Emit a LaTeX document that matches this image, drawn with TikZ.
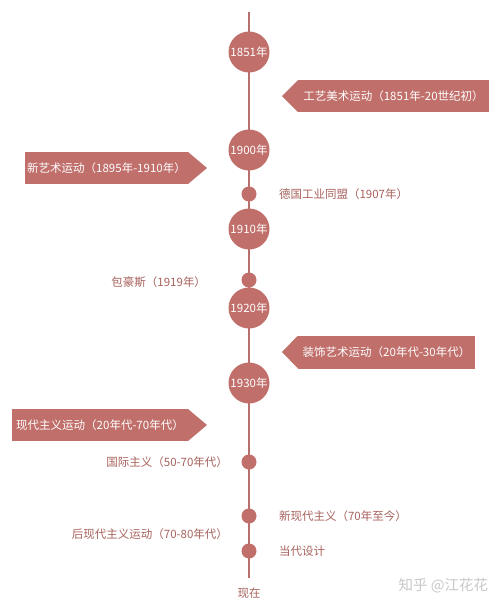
\documentclass[tikz,border=0pt]{standalone}
\usepackage{fontspec}
\setmainfont{Noto Sans CJK SC}
\begin{document}
\begin{tikzpicture}[x=1pt,y=-1pt,
  every node/.style={inner sep=0pt,outer sep=0pt},
  bigc/.style={circle,fill=rose,minimum size=41pt,text=white,font=\fontsize{11.5}{12}\selectfont},
  smallc/.style={circle,fill=rose,minimum size=15pt},
  banner/.style={fill=rose,text=white,font=\fontsize{11.5}{12}\selectfont},
  lbl/.style={text=labeltxt,font=\fontsize{11.5}{12}\selectfont}]
\definecolor{rose}{RGB}{192,111,107}
\definecolor{linec}{RGB}{184,112,110}
\definecolor{labeltxt}{RGB}{168,98,93}
\definecolor{wm}{RGB}{200,200,200}
\useasboundingbox (0,0) rectangle (500,606);
\fill[white] (0,0) rectangle (500,606);
\coordinate (top) at (249,12);
\coordinate (bot) at (249,578);
\draw[linec,line width=1.8pt] (top) -- (bot);
% big circles
\node[bigc] (c1851) at (249,52) {1851年};
\node[bigc] (c1900) at (249,150) {1900年};
\node[bigc] (c1910) at (249,229) {1910年};
\node[bigc] (c1920) at (249,308) {1920年};
\node[bigc] (c1930) at (249,383) {1930年};
% small dots
\node[smallc] (d1907) at (249,194) {};
\node[smallc] (d1919) at (249,280) {};
\node[smallc] (dintl) at (249,462) {};
\node[smallc] (dneo) at (249,516) {};
\node[smallc] (dnow) at (249,551) {};
% banners
\node[banner,minimum width=191pt,minimum height=32pt] (b1) at (393.5,96) {工艺美术运动（1851年-20世纪初）};
\coordinate (t1) at (282,96);
\fill[rose] (b1.north west) -- (t1) -- (b1.south west) -- cycle;
\node[banner,minimum width=163pt,minimum height=32pt] (b2) at (106.5,168) {新艺术运动（1895年-1910年）};
\coordinate (t2) at (207,168);
\fill[rose] (b2.north east) -- (t2) -- (b2.south east) -- cycle;
\node[banner,minimum width=177pt,minimum height=33pt] (b3) at (386.5,352) {装饰艺术运动（20年代-30年代）};
\coordinate (t3) at (282,352);
\fill[rose] (b3.north west) -- (t3) -- (b3.south west) -- cycle;
\node[banner,minimum width=176pt,minimum height=32pt] (b4) at (100,425) {现代主义运动（20年代-70年代）};
\coordinate (t4) at (207,425);
\fill[rose] (b4.north east) -- (t4) -- (b4.south east) -- cycle;
% labels
\node[lbl,anchor=west] (l1907) at (279,194) {德国工业同盟（1907年）};
\node[lbl,anchor=east] (l1919) at (206,282) {包豪斯（1919年）};
\node[lbl,anchor=east] (lintl) at (228,462) {国际主义（50-70年代）};
\node[lbl,anchor=west] (lneo) at (279,516) {新现代主义（70年至今）};
\node[lbl,anchor=east] (lpost) at (228,534) {后现代主义运动（70-80年代）};
\node[lbl,anchor=west] (lnow) at (279,551) {当代设计};
\node[lbl] (xz) at (249,593) {现在};
\node[text=wm,font=\fontsize{14.5}{15}\selectfont,anchor=east] (wmk) at (488,586) {知乎 @江花花};
\end{tikzpicture}
\end{document}
